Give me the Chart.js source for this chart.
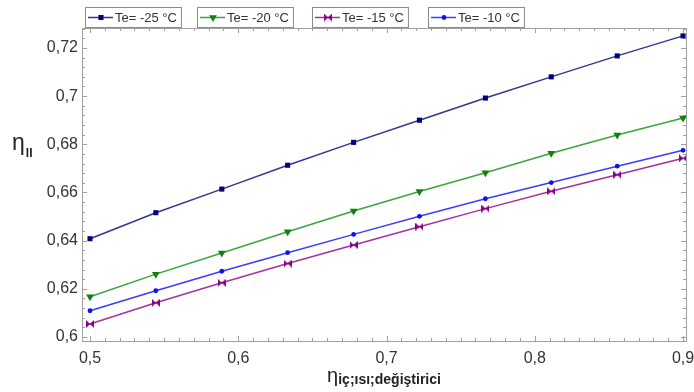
<!DOCTYPE html>
<html>
<head>
<meta charset="utf-8">
<script src="https://cdn.jsdelivr.net/npm/chart.js@4/dist/chart.umd.min.js"></script>
<style>
  html, body { margin: 0; padding: 0; background: #fff; }
  #wrap { width: 694px; height: 392px; position: relative; }
</style>
</head>
<body>
<div id="wrap"><canvas id="c" width="694" height="392"></canvas></div>
<script>
// Heat exchanger efficiency on the x axis, second-law efficiency per evaporating temperature
const xValues = [0.5, 0.5444, 0.5889, 0.6333, 0.6778, 0.7222, 0.7667, 0.8111, 0.8556, 0.9];
const te25 = [0.6408, 0.6516, 0.6614, 0.6713, 0.6808, 0.6900, 0.6992, 0.7080, 0.7167, 0.7250];
const te20 = [0.6167, 0.6261, 0.6349, 0.6437, 0.6523, 0.6604, 0.6682, 0.6763, 0.6839, 0.6909];
const te15 = [0.6054, 0.6142, 0.6225, 0.6305, 0.6382, 0.6458, 0.6533, 0.6605, 0.6674, 0.6742];
const te10 = [0.6109, 0.6192, 0.6273, 0.6350, 0.6426, 0.6501, 0.6574, 0.6641, 0.6709, 0.6775];

const seriesLabels = ['Te= -25 °C', 'Te= -20 °C', 'Te= -15 °C', 'Te= -10 °C'];
const xTickValues = [0.5, 0.6, 0.7, 0.8, 0.9];
const yTickValues = [0.6, 0.62, 0.64, 0.66, 0.68, 0.7, 0.72];
const xTitleSymbol = 'η';
const xTitleText = 'iç;ısı;değiştirici';
const yTitleSymbol = 'η';
const yTitleSub = 'II';

const FONT = '"Liberation Sans", Arial, sans-serif';

// bow-tie marker (two triangles meeting at the centre)
function bowtie(color, s) {
  const c = document.createElement('canvas');
  c.width = s; c.height = s;
  const g = c.getContext('2d');
  g.fillStyle = color;
  g.beginPath();
  g.moveTo(0, 0); g.lineTo(s / 2, s / 2); g.lineTo(0, s); g.closePath();
  g.moveTo(s, 0); g.lineTo(s / 2, s / 2); g.lineTo(s, s); g.closePath();
  g.fill();
  g.fillRect(s / 2 - 0.5, s / 2 - 1, 1, 2);
  return c;
}

const toPts = ys => ys.map((y, i) => ({ x: xValues[i], y }));

const datasets = [
  { label: seriesLabels[0], data: toPts(te25), borderColor: '#35358f', backgroundColor: '#000080',
    pointBackgroundColor: '#000080', pointBorderColor: '#000080', pointStyle: 'rect', pointRadius: 3.6, pointBorderWidth: 0 },
  { label: seriesLabels[1], data: toPts(te20), borderColor: '#3da43d', backgroundColor: '#118011',
    pointBackgroundColor: '#118011', pointBorderColor: '#118011', pointStyle: 'triangle', rotation: 180, pointRadius: 4.5, pointBorderWidth: 0 },
  { label: seriesLabels[2], data: toPts(te15), borderColor: '#a332a3', backgroundColor: '#880088',
    pointStyle: bowtie('#880088', 8), pointRadius: 4 },
  { label: seriesLabels[3], data: toPts(te10), borderColor: '#3c3cff', backgroundColor: '#1010ee',
    pointBackgroundColor: '#1010ee', pointBorderColor: '#1010ee', pointStyle: 'circle', pointRadius: 2.4, pointBorderWidth: 0 }
];

const fmt = v => String(+v.toFixed(2)).replace('.', ',');

// frame, mirrored inward ticks and axis titles
const framePlugin = {
  id: 'frame',
  beforeDatasetsDraw(chart) {
    const { ctx, chartArea: a, scales: { x, y } } = chart;
    ctx.save();
    ctx.strokeStyle = '#a0a0a0';
    ctx.lineWidth = 1;
    ctx.strokeRect(Math.round(a.left) + 0.5, Math.round(a.top) + 0.5,
                   Math.round(a.right - a.left), Math.round(a.bottom - a.top));
    ctx.beginPath();
    for (let k = 50; k <= 90; k++) {
      const v = k / 100;
      const px = Math.round(x.getPixelForValue(v)) + 0.5;
      const len = (k % 10 === 0) ? 5 : 3;
      ctx.moveTo(px, a.bottom); ctx.lineTo(px, a.bottom - len);
      ctx.moveTo(px, a.top); ctx.lineTo(px, a.top + len);
    }
    for (let k = 150; k <= 182; k++) {
      const v = k * 0.004;
      const py = Math.round(y.getPixelForValue(v)) + 0.5;
      const len = (k % 5 === 0) ? 5 : 3;
      ctx.moveTo(a.left, py); ctx.lineTo(a.left + len, py);
      ctx.moveTo(a.right, py); ctx.lineTo(a.right - len, py);
    }
    ctx.stroke();
    ctx.restore();
  },
  afterDraw(chart) {
    const { ctx, chartArea: a } = chart;
    ctx.save();
    ctx.fillStyle = '#222';
    ctx.textBaseline = 'alphabetic';
    // x title
    ctx.font = '20px ' + FONT;
    const w1 = ctx.measureText(xTitleSymbol).width;
    ctx.font = 'bold 14px ' + FONT;
    const w2 = ctx.measureText(xTitleText).width;
    const cx = (a.left + a.right) / 2;
    let sx = cx - (w1 + w2) / 2;
    ctx.font = '20px ' + FONT;
    ctx.textAlign = 'left';
    ctx.fillText(xTitleSymbol, sx, 382);
    ctx.font = 'bold 14px ' + FONT;
    ctx.fillText(xTitleText, sx + w1, 384);
    // y title
    ctx.font = '23px ' + FONT;
    ctx.fillText(yTitleSymbol, 12, 150);
    const wy = ctx.measureText(yTitleSymbol).width;
    ctx.font = 'bold 12px ' + FONT;
    ctx.fillText(yTitleSub, 12 + wy + 1, 157);
    ctx.restore();
  }
};

// one bordered legend box per series along the top
const legendBoxes = [85, 197, 312, 428];
const legendPlugin = {
  id: 'boxedLegend',
  afterDraw(chart) {
    const { ctx } = chart;
    ctx.save();
    chart.data.datasets.forEach((ds, i) => {
      const bx = legendBoxes[i], by = 7, bh = 20;
      ctx.font = '13px ' + FONT;
      const tw = ctx.measureText(ds.label).width;
      const bw = 31 + tw + 3;
      ctx.fillStyle = '#fff';
      ctx.fillRect(bx, by, bw, bh);
      ctx.strokeStyle = '#8a8a8a';
      ctx.lineWidth = 1;
      ctx.strokeRect(bx + 0.5, by + 0.5, bw, bh);
      const ly = by + bh / 2 + 0.5;
      ctx.strokeStyle = ds.borderColor;
      ctx.lineWidth = 1.5;
      ctx.beginPath(); ctx.moveTo(bx + 3, ly); ctx.lineTo(bx + 28, ly); ctx.stroke();
      const opts = {
        pointStyle: ds.pointStyle, rotation: ds.rotation || 0,
        radius: ds.pointRadius, borderWidth: 0
      };
      ctx.fillStyle = ds.pointBackgroundColor || ds.backgroundColor;
      ctx.strokeStyle = ds.pointBorderColor || ds.backgroundColor;
      Chart.helpers.drawPoint(ctx, opts, bx + 16, ly);
      ctx.fillStyle = '#333';
      ctx.textAlign = 'left';
      ctx.textBaseline = 'middle';
      ctx.fillText(ds.label, bx + 30, ly + 1);
    });
    ctx.restore();
  }
};

new Chart(document.getElementById('c'), {
  type: 'line',
  data: { datasets },
  plugins: [framePlugin, legendPlugin],
  options: {
    responsive: false,
    animation: false,
    devicePixelRatio: 1,
    layout: { padding: { top: 28, right: 8, left: 0, bottom: 0 } },
    elements: { line: { borderWidth: 1.5, tension: 0 } },
    plugins: { legend: { display: false }, tooltip: { enabled: false } },
    scales: {
      x: {
        type: 'linear', min: 0.4946, max: 0.902,
        grid: { display: false, drawTicks: false },
        border: { display: false },
        afterBuildTicks: s => { s.ticks = xTickValues.map(v => ({ value: v })); },
        afterFit: s => { s.height = 51; s.paddingLeft = 0; s.paddingRight = 0; },
        ticks: { callback: v => fmt(v), color: '#333', font: { family: FONT, size: 16 }, padding: 8, maxRotation: 0 }
      },
      y: {
        type: 'linear', min: 0.59834, max: 0.72828,
        grid: { display: false, drawTicks: false },
        border: { display: false },
        afterBuildTicks: s => { s.ticks = yTickValues.map(v => ({ value: v })); },
        afterFit: s => { s.width = 82; s.paddingTop = 0; s.paddingBottom = 0; },
        ticks: { callback: v => fmt(v), color: '#333', font: { family: FONT, size: 16 }, padding: 4 }
      }
    }
  }
});
</script>
</body>
</html>
